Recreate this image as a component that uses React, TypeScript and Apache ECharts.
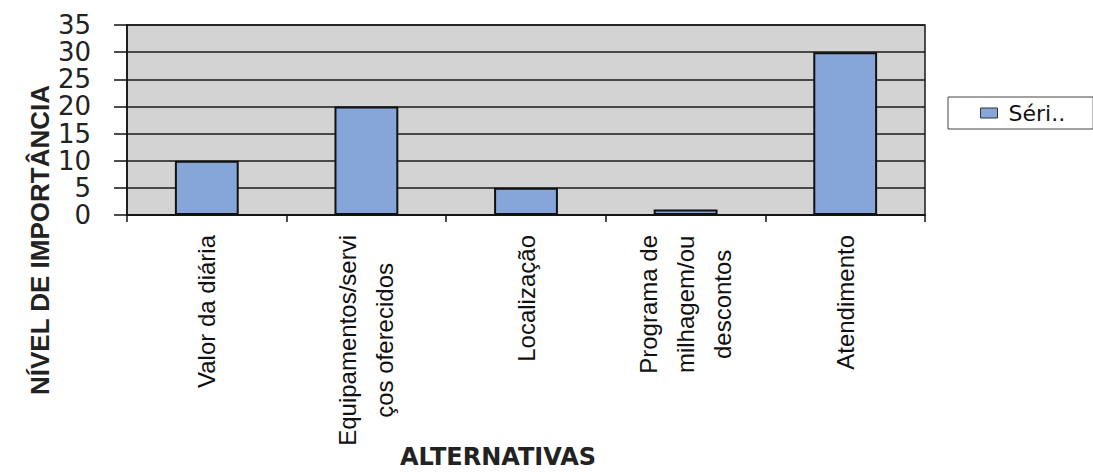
import React, { useEffect, useRef } from "react";
import * as echarts from "echarts";

// Alternatives evaluated and their importance level
const categories: string[] = [
  "Valor da diária",
  "Equipamentos/servi\nços oferecidos",
  "Localização",
  "Programa de\nmilhagem/ou\ndescontos",
  "Atendimento",
];
const values: number[] = [10, 20, 5, 1, 30];
const seriesName = "Séri..";
const yTitle = "NÍVEL DE IMPORTÂNCIA";
const xTitle = "ALTERNATIVAS";
const yMin = 0;
const yMax = 35;
const yStep = 5;

export default function App() {
  const ref = useRef<HTMLDivElement>(null);

  useEffect(() => {
    if (!ref.current) return;
    const chart = echarts.init(ref.current, undefined, { renderer: "svg" });

    chart.setOption({
      animation: false,
      backgroundColor: "#ffffff",
      grid: {
        left: 127,
        right: 168,
        top: 25,
        bottom: 259,
        show: true,
        backgroundColor: "#d3d3d3",
        borderColor: "#1a1a1a",
        borderWidth: 1.5,
      },
      legend: {
        left: 948,
        top: 97,
        orient: "vertical",
        padding: [5, 28, 5, 32],
        borderColor: "#444",
        borderWidth: 1,
        itemWidth: 17,
        itemHeight: 10,
        icon: "rect",
        itemStyle: { borderColor: "#333", borderWidth: 1 },
        textStyle: {
          fontFamily: "DejaVu Sans",
          fontSize: 22,
          color: "#111",
          padding: [0, 0, 0, 6],
        },
        data: [seriesName],
      },
      xAxis: {
        type: "category",
        data: categories,
        boundaryGap: true,
        axisLine: { show: true, lineStyle: { color: "#111", width: 1.5 } },
        axisTick: {
          show: true,
          alignWithLabel: false,
          length: 7,
          lineStyle: { color: "#111", width: 1.5 },
        },
        axisLabel: {
          interval: 0,
          rotate: 90,
          margin: 20,
          color: "#111",
          fontFamily: "Liberation Sans",
          fontSize: 24,
          lineHeight: 37,
          formatter: (v: string) =>
            v
              .split("\n")
              .map((line) => `{c|${line}}`)
              .join("\n"),
          rich: {
            c: {
              align: "center",
              fontFamily: "Liberation Sans",
              fontSize: 24,
              lineHeight: 37,
              color: "#111",
            },
          },
        },
        splitLine: { show: false },
      },
      yAxis: {
        type: "value",
        min: yMin,
        max: yMax,
        interval: yStep,
        axisLine: { show: true, lineStyle: { color: "#111", width: 1.5 } },
        axisTick: {
          show: true,
          inside: false,
          length: 13,
          lineStyle: { color: "#111", width: 1.5 },
        },
        axisLabel: {
          margin: 36,
          color: "#222",
          fontFamily: "DejaVu Sans",
          fontSize: 26,
        },
        splitLine: { show: true, lineStyle: { color: "#1a1a1a", width: 1.5 } },
      },
      series: [
        {
          name: seriesName,
          type: "bar",
          data: values,
          barWidth: "40%",
          itemStyle: {
            color: "#86a5d8",
            borderColor: "#111",
            borderWidth: 2,
          },
        },
      ],
      graphic: [
        {
          type: "text",
          x: 40,
          y: 240,
          rotation: Math.PI / 2,
          style: {
            text: yTitle,
            fontFamily: "Liberation Sans",
            fontWeight: "bold",
            fontSize: 26,
            fill: "#222",
            align: "center",
            verticalAlign: "middle",
          },
        },
        {
          type: "text",
          x: 498,
          y: 457,
          style: {
            text: xTitle,
            fontFamily: "DejaVu Sans",
            fontWeight: "bold",
            fontSize: 24,
            fill: "#222",
            align: "center",
            verticalAlign: "middle",
          },
        },
      ],
    });

    return () => chart.dispose();
  }, []);

  return (
    <div
      ref={ref}
      style={{ position: "fixed", left: 0, top: 0, width: 1093, height: 474 }}
    />
  );
}
